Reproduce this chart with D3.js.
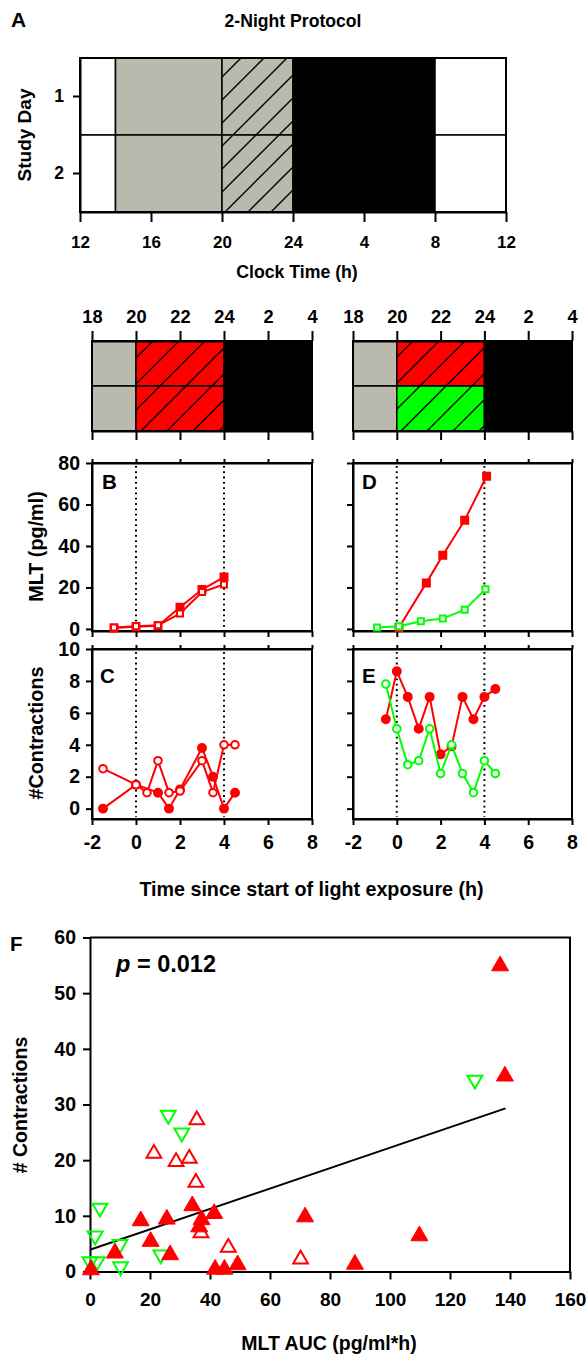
<!DOCTYPE html>
<html>
<head>
<meta charset="utf-8">
<script src="https://cdn.jsdelivr.net/npm/d3@7"></script>
<style>
body { margin: 0; background: #fff; }
svg { display: block; }
</style>
</head>
<body>
<svg id="chart" width="588" height="1355"></svg>
<script>
// ---- data ----
// panel A: 2-night protocol, clock hours (36 = noon of next day)
var clockTicks = [12, 16, 20, 24, 28, 32, 36];
var clockLabels = ['12', '16', '20', '24', '4', '8', '12'];
var studyDays = [1, 2];
var blockStartA = [12, 14, 20, 24, 32];
var blockEndA = [14, 20, 24, 32, 36];
var blockCondA = ['room', 'dim', 'light', 'dark', 'room'];

// protocol strips above B-E
var protoTicks = [18, 20, 22, 24, 26, 28];
var protoLabels = ['18', '20', '22', '24', '2', '4'];
var protoStart = [18, 20, 24];
var protoEnd = [20, 24, 28];
var protoLeftDays = [['dim', 'red', 'dark'], ['dim', 'red', 'dark']];
var protoRightDays = [['dim', 'red', 'dark'], ['dim', 'green', 'dark']];

var timeTicks = [-2, 0, 2, 4, 6, 8];
var lightOnOff = [0, 4];
var mltTicks = [0, 20, 40, 60, 80];
var contrTicks = [0, 2, 4, 6, 8, 10];

// B: melatonin, red both nights
var timeBfilled = [-1, 0, 1, 2, 3, 4];
var mltBfilled = [0.5, 1, 1.5, 10.5, 19, 25];
var timeBopen = [-1, 0, 1, 2, 3, 4];
var mltBopen = [0.7, 1.3, 1.8, 7.4, 17.8, 21.4];

// D: melatonin, red vs green
var timeDred = [0.1, 1.35, 2.1, 3.1, 4.1];
var mltDred = [0.7, 22.2, 35.5, 52.4, 73.6];
var timeDgreen = [-0.9, 0.1, 1.1, 2.1, 3.1, 4.05];
var mltDgreen = [0.7, 1.3, 3.7, 5, 9.3, 19.1];

// C: contractions, red both nights
var timeCfilled = [-1.5, 0, 1, 1.5, 2, 3, 3.5, 4, 4.5];
var contrCfilled = [0, 1.5, 1, 0, 1.2, 3.8, 2, 0, 1];
var timeCopen = [-1.5, 0, 0.5, 1, 1.5, 2, 3, 3.5, 4, 4.5];
var contrCopen = [2.5, 1.5, 1, 3, 1, 1.1, 3, 1, 4, 4];

// E: contractions, red vs green
var timeE = [-0.5, 0, 0.5, 1, 1.5, 2, 2.5, 3, 3.5, 4, 4.5];
var contrEred = [5.6, 8.6, 7, 5, 7, 3.4, 3.9, 7, 5.6, 7, 7.5];
var contrEgreen = [7.8, 5, 2.75, 3, 5, 2.2, 4, 2.2, 1, 3, 2.2];

// F: contractions vs MLT AUC
var aucTicks = [0, 20, 40, 60, 80, 100, 120, 140, 160];
var countTicks = [0, 10, 20, 30, 40, 50, 60];
var redFilledAuc = [0.3, 8.3, 16.9, 20.2, 25.6, 26.7, 34.1, 36.4, 37.2, 41.4, 41.7, 44.8, 49.2, 71.7, 88.3, 109.8, 136.7, 138.3];
var redFilledCount = [0.3, 3.3, 9.1, 5.4, 9.4, 3.0, 11.8, 8.0, 9.3, 10.4, 0.4, 0.4, 1.2, 9.8, 1.3, 6.4, 54.9, 35.1];
var redOpenAuc = [21.3, 28.7, 33.1, 35.3, 37, 46.1, 35.6, 70.2];
var redOpenCount = [21.2, 19.7, 20.3, 16.0, 6.9, 4.3, 27.2, 2.2];
var greenAuc = [3.3, 1.7, 0, 2.4, 10, 10.2, 23.6, 30.6, 26.1, 128.3];
var greenCount = [11.4, 6.4, 1.8, 1.8, 4.9, 0.9, 3.0, 24.9, 28.1, 34.4];
var fitAuc = [0, 138.5];
var fitCount = [3.9, 29.3];

// ---- drawing ----
var FONT = '"Liberation Sans", Arial, Helvetica, sans-serif';
var GRAY = '#b9b9ad';
var RED = '#ff0000';
var GREEN = '#00ff00';

var svg = d3.select('#chart');
var defs = svg.append('defs');

function hatch(id, bg, step) {
	var p = defs.append('pattern').attr('id', id)
		.attr('patternUnits', 'userSpaceOnUse')
		.attr('width', step).attr('height', step);
	p.append('rect').attr('width', step).attr('height', step).attr('fill', bg);
	p.append('path')
		.attr('d', 'M0,' + step + 'L' + step + ',0M-3,3L3,-3M' + (step - 3) + ',' + (step + 3) + 'L' + (step + 3) + ',' + (step - 3))
		.attr('stroke', '#000').attr('stroke-width', 1.4);
}
hatch('hatchGray', GRAY, 23);
hatch('hatchRed', RED, 26);
hatch('hatchGreen', GREEN, 26);

var fillOf = {room: '#fff', dim: GRAY, light: 'url(#hatchGray)', dark: '#000',
	red: 'url(#hatchRed)', green: 'url(#hatchGreen)'};

function styleAxis(g, size) {
	g.attr('font-family', FONT).attr('font-size', size).attr('font-weight', 'bold');
	g.selectAll('path.domain').attr('stroke-width', 2);
	g.selectAll('.tick line').attr('stroke-width', 2);
	g.selectAll('.tick text').attr('fill', '#000');
	return g;
}

function label(txt, x, y, size, anchor, rotate) {
	var t = svg.append('text').text(txt)
		.attr('font-family', FONT).attr('font-weight', 'bold')
		.attr('font-size', size).attr('text-anchor', anchor || 'middle');
	if (rotate) t.attr('transform', 'translate(' + x + ',' + y + ') rotate(-90)');
	else t.attr('x', x).attr('y', y);
	return t;
}

// panel A
var xA = d3.scaleLinear().domain([12, 36]).range([80, 506]);
var yA = d3.scaleBand().domain(studyDays).range([58, 212]);
var gA = svg.append('g');
studyDays.forEach(function(day) {
	gA.selectAll(null).data(blockCondA).enter().append('rect')
		.attr('x', function(d, i) { return xA(blockStartA[i]); })
		.attr('width', function(d, i) { return xA(blockEndA[i]) - xA(blockStartA[i]); })
		.attr('y', yA(day)).attr('height', yA.bandwidth())
		.attr('fill', function(d) { return fillOf[d]; })
		.attr('stroke', '#000').attr('stroke-width', 1.5);
});
gA.append('rect')
	.attr('x', xA.range()[0]).attr('y', yA.range()[0])
	.attr('width', xA.range()[1] - xA.range()[0]).attr('height', yA.range()[1] - yA.range()[0])
	.attr('fill', 'none').attr('stroke', '#000').attr('stroke-width', 2);
styleAxis(gA.append('g').attr('transform', 'translate(0,' + yA.range()[1] + ')')
	.call(d3.axisBottom(xA).tickValues(clockTicks)
		.tickFormat(function(d, i) { return clockLabels[i]; })
		.tickSize(10).tickSizeOuter(0).tickPadding(14)), 17);
styleAxis(gA.append('g').attr('transform', 'translate(' + xA.range()[0] + ',0)')
	.call(d3.axisLeft(yA).tickSize(7).tickSizeOuter(0).tickPadding(9)), 17.5);

label('A', 11, 27, 21, 'start');
label('2-Night Protocol', 293, 26.5, 17.6);
label('Clock Time (h)', 297, 278, 17.7);
label('Study Day', 31, 135, 19, 'middle', true);

// protocol strips
function protocolStrip(x0, x1, days) {
	var x = d3.scaleLinear().domain([18, 28]).range([x0, x1]);
	var y = d3.scaleBand().domain(studyDays).range([341, 431]);
	var g = svg.append('g');
	days.forEach(function(conds, k) {
		g.selectAll(null).data(conds).enter().append('rect')
			.attr('x', function(d, i) { return x(protoStart[i]); })
			.attr('width', function(d, i) { return x(protoEnd[i]) - x(protoStart[i]); })
			.attr('y', y(studyDays[k])).attr('height', y.bandwidth())
			.attr('fill', function(d) { return fillOf[d]; })
			.attr('stroke', '#000').attr('stroke-width', 1.5);
	});
	g.append('rect').attr('x', x0).attr('y', y.range()[0])
		.attr('width', x1 - x0).attr('height', y.range()[1] - y.range()[0])
		.attr('fill', 'none').attr('stroke', '#000').attr('stroke-width', 2);
	styleAxis(g.append('g').attr('transform', 'translate(0,' + y.range()[0] + ')')
		.call(d3.axisTop(x).tickValues(protoTicks)
			.tickFormat(function(d, i) { return protoLabels[i]; })
			.tickSize(10).tickSizeOuter(0).tickPadding(8)), 18.3);
	styleAxis(g.append('g').attr('transform', 'translate(0,' + y.range()[1] + ')')
		.call(d3.axisBottom(x).tickValues(protoTicks).tickFormat('')
			.tickSize(9).tickSizeOuter(0)), 18);
}
protocolStrip(92, 312, protoLeftDays);
protocolStrip(353, 572, protoRightDays);

// time panels B-E
function timePanel(x0, x1, y, ticks, yLabels, xLabels) {
	var x = d3.scaleLinear().domain([-2, 8]).range([x0, x1]);
	var g = svg.append('g');
	var yr = y.range();
	g.append('rect').attr('x', x0).attr('y', yr[1])
		.attr('width', x1 - x0).attr('height', yr[0] - yr[1])
		.attr('fill', '#fff').attr('stroke', '#000').attr('stroke-width', 2);
	g.selectAll(null).data(lightOnOff).enter().append('line')
		.attr('x1', function(d) { return x(d); }).attr('x2', function(d) { return x(d); })
		.attr('y1', yr[1] + 3).attr('y2', yr[0] - 2)
		.attr('stroke', '#000').attr('stroke-width', 2).attr('stroke-dasharray', '1.8,3.5');
	styleAxis(g.append('g').attr('transform', 'translate(' + x0 + ',0)')
		.call(d3.axisLeft(y).tickValues(ticks).tickSize(6).tickSizeOuter(0).tickPadding(6)
			.tickFormat(yLabels ? d3.format('d') : '')), 19.5);
	styleAxis(g.append('g').attr('transform', 'translate(0,' + yr[0] + ')')
		.call(d3.axisBottom(x).tickValues(timeTicks).tickSize(6).tickSizeOuter(0).tickPadding(10)
			.tickFormat(xLabels ? d3.format('d') : '')), 19.5);
	styleAxis(g.append('g').attr('transform', 'translate(0,' + yr[1] + ')')
		.call(d3.axisTop(x).tickValues(timeTicks).tickSize(4).tickSizeOuter(0).tickFormat('')), 19.5);
	g.selectAll('.tick text').text(function() { return d3.select(this).text().replace('−', '-'); });
	return {g: g, x: x, y: y};
}

function series(p, ts, vs, color, shape, filled) {
	var pts = ts.map(function(t, i) { return [t, vs[i]]; });
	p.g.append('path').datum(pts)
		.attr('d', d3.line().x(function(d) { return p.x(d[0]); }).y(function(d) { return p.y(d[1]); }))
		.attr('fill', 'none').attr('stroke', color).attr('stroke-width', 2);
	var sym = shape === 'square'
		? d3.symbol().type(d3.symbolSquare).size(filled ? 49 : 36)
		: d3.symbol().type(d3.symbolCircle).size(filled ? 50 : 45);
	p.g.selectAll(null).data(pts).enter().append('path')
		.attr('transform', function(d) { return 'translate(' + p.x(d[0]) + ',' + p.y(d[1]) + ')'; })
		.attr('d', sym)
		.attr('fill', filled ? color : '#fff')
		.attr('stroke', color).attr('stroke-width', 2);
}

var yMLT = d3.scaleLinear().domain([-1, 80]).range([631, 463]);
var yCon = d3.scaleLinear().domain([-0.65, 10]).range([819, 649]);

var pB = timePanel(92, 312, yMLT, mltTicks, true, false);
series(pB, timeBfilled, mltBfilled, RED, 'square', true);
series(pB, timeBopen, mltBopen, RED, 'square', false);

var pD = timePanel(353, 572, yMLT, mltTicks, false, false);
series(pD, timeDred, mltDred, RED, 'square', true);
series(pD, timeDgreen, mltDgreen, GREEN, 'square', false);

var pC = timePanel(92, 312, yCon, contrTicks, true, true);
series(pC, timeCfilled, contrCfilled, RED, 'circle', true);
series(pC, timeCopen, contrCopen, RED, 'circle', false);

var pE = timePanel(353, 572, yCon, contrTicks, false, true);
series(pE, timeE, contrEred, RED, 'circle', true);
series(pE, timeE, contrEgreen, GREEN, 'circle', false);

label('B', 102, 489, 20.5, 'start');
label('D', 362, 489, 20.5, 'start');
label('C', 100, 683, 20.5, 'start');
label('E', 362, 683, 20.5, 'start');
label('MLT (pg/ml)', 43, 546.5, 19.8, 'middle', true);
label('#Contractions', 43, 733, 19.8, 'middle', true);
label('Time since start of light exposure (h)', 311.5, 896, 19.7);

// panel F
var xF = d3.scaleLinear().domain([0, 160]).range([90, 570]);
var yF = d3.scaleLinear().domain([0, 60]).range([1271.5, 937.5]);
var gF = svg.append('g');
gF.append('path')
	.attr('d', 'M' + xF(0) + ',' + yF(60) + 'H' + xF(160) + 'V' + yF(0))
	.attr('fill', 'none').attr('stroke', '#000').attr('stroke-width', 2);
styleAxis(gF.append('g').attr('transform', 'translate(' + xF(0) + ',0)')
	.call(d3.axisLeft(yF).tickValues(countTicks).tickSize(7).tickSizeOuter(0).tickPadding(7)), 19.5);
styleAxis(gF.append('g').attr('transform', 'translate(0,' + yF(0) + ')')
	.call(d3.axisBottom(xF).tickValues(aucTicks).tickSize(8).tickSizeOuter(0).tickPadding(13)), 19);

gF.append('line')
	.attr('x1', xF(fitAuc[0])).attr('y1', yF(fitCount[0]))
	.attr('x2', xF(fitAuc[1])).attr('y2', yF(fitCount[1]))
	.attr('stroke', '#000').attr('stroke-width', 2);

var tri = d3.symbol().type(d3.symbolTriangle).size(125);
var triOpen = d3.symbol().type(d3.symbolTriangle).size(95);
gF.selectAll(null).data(redOpenAuc).enter().append('path')
	.attr('transform', function(d, i) { return 'translate(' + xF(d) + ',' + yF(redOpenCount[i]) + ')'; })
	.attr('d', triOpen).attr('fill', '#fff').attr('stroke', RED).attr('stroke-width', 2);
gF.selectAll(null).data(greenAuc).enter().append('path')
	.attr('transform', function(d, i) { return 'translate(' + xF(d) + ',' + yF(greenCount[i]) + ') rotate(180)'; })
	.attr('d', triOpen).attr('fill', 'none').attr('stroke', GREEN).attr('stroke-width', 2);
gF.selectAll(null).data(redFilledAuc).enter().append('path')
	.attr('transform', function(d, i) { return 'translate(' + xF(d) + ',' + yF(redFilledCount[i]) + ')'; })
	.attr('d', tri).attr('fill', RED).attr('stroke', RED).attr('stroke-width', 1);

label('F', 10, 951, 20.5, 'start');
var pt = label('', 116, 971.5, 23.5, 'start');
pt.append('tspan').attr('font-style', 'italic').text('p');
pt.append('tspan').text(' = 0.012');
label('# Contractions', 27, 1105, 19.5, 'middle', true);
label('MLT AUC (pg/ml*h)', 329, 1350, 19.5);
</script>
</body>
</html>
